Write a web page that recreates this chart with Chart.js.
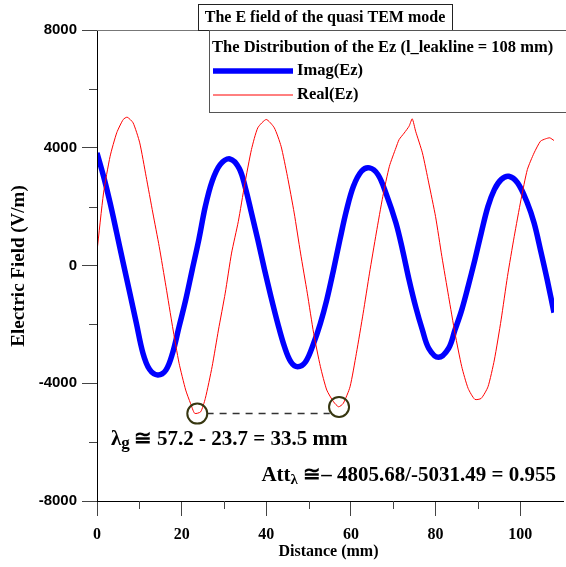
<!DOCTYPE html>
<html><head><meta charset="utf-8">
<script src="https://cdn.jsdelivr.net/npm/chart.js@4/dist/chart.umd.min.js"></script>
<style>html,body{margin:0;padding:0;background:#fff;}#wrap{width:566px;height:567px;}</style>
</head><body><div id="wrap"><canvas id="c" width="566" height="567"></canvas></div>
<script>
// ---- data ----
const imagX = [0,1.55,3.1,4.66,6.2,7.76,9.3,10.86,12.4,14.35,16.3,17.85,19.4,20.96,22.5,24.06,25.6,27.2,29.1,31.4,33.6,35.1,36.5,38.0,39.6,41.1,42.7,44.3,45.8,47.4,49.3,51.2,52.8,54.3,55.9,57.4,59.0,60.6,62.5,64.4,66.4,68.3,70.65,72.2,73.75,75.3,76.9,78.4,80.7,83.1,84.6,86.2,87.7,89.3,90.8,92.4,93.9,95.5,97.3,99.4,101.7,103.3,104.8,106.4,108];
const imagY = [3826,3030,2124,1103,82,-940,-1960,-2980,-3527,-3720,-3550,-2982,-2076,-1168,-146,875,2008,2860,3428,3620,3300,2620,1784,875,-146,-1055,-1960,-2757,-3268,-3438,-3268,-2641,-1960,-1168,-146,875,1896,2690,3200,3315,3087,2450,1443,534,-487,-1396,-2190,-2812,-3118,-2812,-2190,-1508,-715,194,1103,2008,2577,2917,3030,2805,2124,1443,534,-487,-1600];
const realX = [0,1.55,3.1,4.66,6.2,7.13,8.53,10.1,11.6,13.2,14.7,16.3,17.85,19.4,20.96,22.1,23.1,24.5,25.6,27.2,28.7,30.3,31.8,33.4,34.9,36.5,38.0,40.0,41.9,43.5,45.0,46.6,48.1,49.7,51.2,52.8,54.3,55.9,57.1,58.2,59.8,61.3,62.9,64.4,66.0,67.55,69.1,70.65,71.4,72.6,73.75,74.5,75.3,76.9,78.4,80.0,81.5,83.1,84.6,86.2,87.7,89.3,90.8,92.4,93.9,95.5,97.0,98.6,100.2,101.7,103.3,104.8,106.0,107.0,108.0];
const realY = [480,2464,3710,4507,4960,5038,4847,4166,3030,1784,647,-715,-2076,-3322,-4231,-4684,-5024,-4970,-4514,-3438,-2190,-940,422,1500,2750,3938,4677,4960,4677,4051,3030,1784,422,-940,-2301,-3438,-4231,-4630,-4800,-4684,-4119,-2982,-1620,-259,1103,2349,3370,4000,4279,4500,4732,4983,4561,3826,2805,1668,306,-1055,-2301,-3438,-4173,-4548,-4514,-4119,-3210,-1848,-374,987,2236,3258,3826,4221,4303,4337,4245];
const markX = [23.7, 57.2];
const markY = [-5031.49, -4805.68];
const guideX = [25.9, 55.0];
const guideY = [-5031.49, -5031.49];
const xMajor = [0,20,40,60,80,100];
const xMinor = [10,30,50,70,90];
const yMajor = [-8000,-4000,0,4000,8000];
const yMinor = [-6000,-2000,2000,6000];
const seriesNames = ['Imag(Ez)','Real(Ez)'];
const titleText = 'The E field of the quasi TEM mode';
const legendTitle = 'The Distribution of the Ez (l_leakline = 108 mm)';
const xTitle = 'Distance (mm)';
const yTitle = 'Electric Field (V/m)';

const pts = (xs, ys) => xs.map((x, i) => ({x, y: ys[i]}));
const SERIF = '"Liberation Serif","Times New Roman",serif';
const SANS = '"Liberation Sans",Arial,sans-serif';

const deco = {
  id: 'deco',
  afterDraw(chart) {
    const c = chart.ctx, a = chart.chartArea;
    const xs = chart.scales.x, ys = chart.scales.y;
    c.save();
    // axis lines
    c.strokeStyle = '#000'; c.lineWidth = 1;
    c.beginPath();
    c.moveTo(a.left + 0.5, a.top); c.lineTo(a.left + 0.5, a.bottom + 1);
    c.moveTo(a.left, a.bottom + 0.5); c.lineTo(564, a.bottom + 0.5);
    c.stroke();
    c.strokeStyle = '#777';
    c.beginPath(); c.moveTo(a.left, a.top + 0.5); c.lineTo(566, a.top + 0.5); c.stroke();
    // minor ticks
    c.strokeStyle = '#444';
    c.beginPath();
    yMinor.forEach(v => { const p = Math.round(ys.getPixelForValue(v)) + 0.5; c.moveTo(a.left - 8, p); c.lineTo(a.left, p); });
    xMinor.forEach(v => { const p = Math.round(xs.getPixelForValue(v)) + 0.5; c.moveTo(p, a.bottom); c.lineTo(p, a.bottom + 8); });
    c.stroke();
    // title box
    c.fillStyle = '#fff';
    c.fillRect(198, 4, 254, 26);
    c.strokeStyle = '#222';
    c.strokeRect(198.5, 4.5, 254, 26);
    c.fillStyle = '#000';
    c.font = 'bold 16px ' + SERIF;
    c.textAlign = 'center'; c.textBaseline = 'middle';
    c.fillText(titleText, 325, 18);
    // legend box
    c.fillStyle = '#fff';
    c.fillRect(209, 31, 360, 82);
    c.strokeStyle = '#555';
    c.strokeRect(209.5, 30.5, 400, 82);
    c.fillStyle = '#000';
    c.textAlign = 'left';
    c.font = 'bold 16.5px ' + SERIF;
    c.fillText(legendTitle, 212, 48);
    const ds = chart.data.datasets;
    [0, 1].forEach((k, i) => {
      const y = 71 + i * 24;
      c.strokeStyle = ds[k].borderColor; c.lineWidth = ds[k].borderWidth;
      c.beginPath(); c.moveTo(213, y); c.lineTo(293, y); c.stroke();
      c.fillStyle = '#000';
      c.fillText(seriesNames[k], 297, y);
    });
    // axis titles
    c.font = 'bold 16px ' + SERIF;
    c.textAlign = 'center';
    c.fillText(xTitle, (a.left + 564) / 2 - 2, 552);
    c.save();
    c.translate(19, 266); c.rotate(-Math.PI / 2);
    c.font = 'bold 19px ' + SERIF;
    c.fillText(yTitle, 0, 0);
    c.restore();
    // annotations
    c.font = 'bold 21px ' + SERIF;
    c.textAlign = 'left'; c.textBaseline = 'alphabetic';
    let x0 = 111, y0 = 445;
    c.fillText('\u03bb', x0, y0);
    let w = c.measureText('\u03bb').width;
    c.font = 'bold 17px ' + SERIF;
    c.fillText('g', x0 + w, y0 + 3);
    w += c.measureText('g').width + 4;
    c.font = 'bold 21px ' + SERIF;
    c.fillText('\u2245 57.2 - 23.7 = 33.5 mm', x0 + w, y0);
    // Att
    const tail = ' \u2245\u2013 4805.68/-5031.49 = 0.955';
    c.font = 'bold 21px ' + SERIF;
    const wTail = c.measureText(tail).width;
    const wAtt = c.measureText('Att').width;
    c.font = 'bold 15px ' + SERIF;
    const wL = c.measureText('\u03bb').width;
    const xr = 556, yb = 481;
    let xs0 = xr - wTail - wL - wAtt;
    c.font = 'bold 21px ' + SERIF;
    c.fillText('Att', xs0, yb);
    c.font = 'bold 15px ' + SERIF;
    c.fillText('\u03bb', xs0 + wAtt, yb + 3);
    c.font = 'bold 21px ' + SERIF;
    c.fillText(tail, xs0 + wAtt + wL, yb);
    c.restore();
  }
};

new Chart(document.getElementById('c'), {
  type: 'scatter',
  data: {
    datasets: [
      { label: seriesNames[0], data: pts(imagX, imagY), showLine: true, borderColor: '#0000ff', borderWidth: 5.5, pointRadius: 0, tension: 0.35, order: 2 },
      { label: seriesNames[1], data: pts(realX, realY), showLine: true, borderColor: '#ff0000', borderWidth: 1, pointRadius: 0, tension: 0.2, order: 1 },
      { label: 'guide', data: pts(guideX, guideY), showLine: true, borderColor: '#333', borderWidth: 1.5, borderDash: [7, 6], pointRadius: 0, order: 0 },
      { label: 'marks', data: pts(markX, markY), showLine: false, pointRadius: 10, pointBorderWidth: 2, pointBorderColor: '#363610', pointBackgroundColor: 'rgba(0,0,0,0)', order: -1 }
    ]
  },
  options: {
    responsive: false, animation: false, devicePixelRatio: 1,
    layout: { padding: { top: 30, right: 5.6, left: 0, bottom: 0 } },
    plugins: { legend: { display: false }, tooltip: { enabled: false } },
    scales: {
      x: {
        type: 'linear', min: 0, max: 108,
        afterFit(s) { s.height = 66; },
        afterBuildTicks(s) { s.ticks = xMajor.map(v => ({ value: v })); },
        grid: { drawOnChartArea: false, drawTicks: true, tickLength: 15, tickColor: '#444' },
        border: { display: false },
        ticks: { padding: 9, color: '#000', font: { family: SERIF, size: 16, weight: 'bold' }, maxRotation: 0, callback: v => String(v) }
      },
      y: {
        type: 'linear', min: -8000, max: 8000,
        afterFit(s) { s.width = 97; },
        afterBuildTicks(s) { s.ticks = yMajor.map(v => ({ value: v })); },
        grid: { drawOnChartArea: false, drawTicks: true, tickLength: 15, tickColor: '#444' },
        border: { display: false },
        ticks: { padding: 5, color: '#000', font: { family: SANS, size: 15, weight: 'bold' }, callback: v => String(v) }
      }
    }
  },
  plugins: [deco]
});
</script></body></html>
